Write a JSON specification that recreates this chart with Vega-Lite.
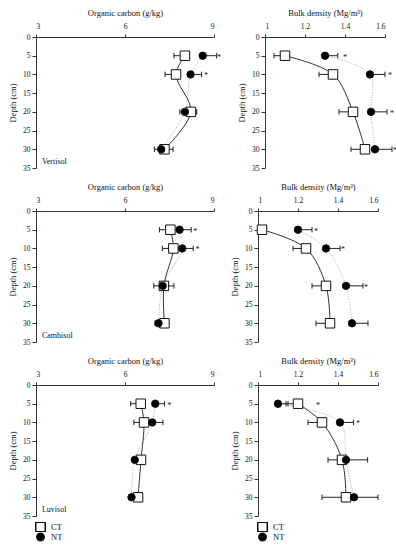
{
"$schema": "https://vega.github.io/schema/vega-lite/v6.json",
"padding": {"left": 8, "top": 8, "right": 2, "bottom": 2},
"background": "white",
"config": {
  "font": "Liberation Serif",
  "view": {"stroke": null},
  "axis": {"grid": false, "labelFontSize": 7.5, "titleFontSize": 8.5, "titleFontWeight": "normal", "labelColor": "#111", "titleColor": "#111", "domainColor": "#333", "tickColor": "#333", "tickSize": 3, "labelPadding": 2, "titlePadding": 5},
  "legend": {"labelFontSize": 8.5, "labelColor": "#111"},
  "text": {"font": "Liberation Serif", "color": "#111"}
},
"datasets": {"d": [
{"soil":"Vertisol","var":"OC","trt":"CT","depth":5,"value":8.02,"whisk":7.65,"star":null},
{"soil":"Vertisol","var":"OC","trt":"NT","depth":5,"value":8.62,"whisk":9.09,"star":9.17},
{"soil":"Vertisol","var":"OC","trt":"CT","depth":10,"value":7.72,"whisk":7.35,"star":null},
{"soil":"Vertisol","var":"OC","trt":"NT","depth":10,"value":8.21,"whisk":8.58,"star":8.73},
{"soil":"Vertisol","var":"OC","trt":"CT","depth":20,"value":8.22,"whisk":8.42,"star":null},
{"soil":"Vertisol","var":"OC","trt":"NT","depth":20,"value":8.02,"whisk":7.85,"star":null},
{"soil":"Vertisol","var":"OC","trt":"CT","depth":30,"value":7.33,"whisk":7.62,"star":null},
{"soil":"Vertisol","var":"OC","trt":"NT","depth":30,"value":7.22,"whisk":6.99,"star":null},
{"soil":"Vertisol","var":"BD","trt":"CT","depth":5,"value":1.10,"whisk":1.045,"star":null},
{"soil":"Vertisol","var":"BD","trt":"NT","depth":5,"value":1.30,"whisk":1.364,"star":1.40},
{"soil":"Vertisol","var":"BD","trt":"CT","depth":10,"value":1.34,"whisk":1.27,"star":null},
{"soil":"Vertisol","var":"BD","trt":"NT","depth":10,"value":1.525,"whisk":1.60,"star":1.625},
{"soil":"Vertisol","var":"BD","trt":"CT","depth":20,"value":1.44,"whisk":1.37,"star":null},
{"soil":"Vertisol","var":"BD","trt":"NT","depth":20,"value":1.53,"whisk":1.61,"star":1.635},
{"soil":"Vertisol","var":"BD","trt":"CT","depth":30,"value":1.50,"whisk":1.43,"star":null},
{"soil":"Vertisol","var":"BD","trt":"NT","depth":30,"value":1.55,"whisk":1.635,"star":1.65},
{"soil":"Cambisol","var":"OC","trt":"CT","depth":5,"value":7.53,"whisk":7.16,"star":null},
{"soil":"Cambisol","var":"OC","trt":"NT","depth":5,"value":7.84,"whisk":8.23,"star":8.37},
{"soil":"Cambisol","var":"OC","trt":"CT","depth":10,"value":7.63,"whisk":7.26,"star":null},
{"soil":"Cambisol","var":"OC","trt":"NT","depth":10,"value":7.93,"whisk":8.30,"star":8.44},
{"soil":"Cambisol","var":"OC","trt":"CT","depth":20,"value":7.31,"whisk":7.65,"star":null},
{"soil":"Cambisol","var":"OC","trt":"NT","depth":20,"value":7.27,"whisk":6.97,"star":null},
{"soil":"Cambisol","var":"OC","trt":"CT","depth":30,"value":7.33,"whisk":null,"star":null},
{"soil":"Cambisol","var":"OC","trt":"NT","depth":30,"value":7.13,"whisk":7.01,"star":null},
{"soil":"Cambisol","var":"BD","trt":"CT","depth":5,"value":1.02,"whisk":null,"star":null},
{"soil":"Cambisol","var":"BD","trt":"NT","depth":5,"value":1.20,"whisk":1.27,"star":1.29},
{"soil":"Cambisol","var":"BD","trt":"CT","depth":10,"value":1.24,"whisk":1.175,"star":null},
{"soil":"Cambisol","var":"BD","trt":"NT","depth":10,"value":1.34,"whisk":1.41,"star":1.425},
{"soil":"Cambisol","var":"BD","trt":"CT","depth":20,"value":1.34,"whisk":1.27,"star":null},
{"soil":"Cambisol","var":"BD","trt":"NT","depth":20,"value":1.44,"whisk":1.525,"star":1.54},
{"soil":"Cambisol","var":"BD","trt":"CT","depth":30,"value":1.36,"whisk":1.29,"star":null},
{"soil":"Cambisol","var":"BD","trt":"NT","depth":30,"value":1.47,"whisk":1.55,"star":null},
{"soil":"Luvisol","var":"OC","trt":"CT","depth":5,"value":6.53,"whisk":6.19,"star":null},
{"soil":"Luvisol","var":"OC","trt":"NT","depth":5,"value":7.02,"whisk":7.33,"star":7.5},
{"soil":"Luvisol","var":"OC","trt":"CT","depth":10,"value":6.64,"whisk":6.30,"star":null},
{"soil":"Luvisol","var":"OC","trt":"NT","depth":10,"value":6.92,"whisk":7.28,"star":null},
{"soil":"Luvisol","var":"OC","trt":"CT","depth":20,"value":6.54,"whisk":null,"star":null},
{"soil":"Luvisol","var":"OC","trt":"NT","depth":20,"value":6.33,"whisk":null,"star":null},
{"soil":"Luvisol","var":"OC","trt":"CT","depth":30,"value":6.44,"whisk":null,"star":null},
{"soil":"Luvisol","var":"OC","trt":"NT","depth":30,"value":6.22,"whisk":null,"star":null},
{"soil":"Luvisol","var":"BD","trt":"CT","depth":5,"value":1.20,"whisk":1.14,"star":null},
{"soil":"Luvisol","var":"BD","trt":"NT","depth":5,"value":1.10,"whisk":1.15,"star":1.30},
{"soil":"Luvisol","var":"BD","trt":"CT","depth":10,"value":1.32,"whisk":1.25,"star":null},
{"soil":"Luvisol","var":"BD","trt":"NT","depth":10,"value":1.41,"whisk":1.478,"star":1.50},
{"soil":"Luvisol","var":"BD","trt":"CT","depth":20,"value":1.42,"whisk":1.35,"star":null},
{"soil":"Luvisol","var":"BD","trt":"NT","depth":20,"value":1.44,"whisk":1.548,"star":null},
{"soil":"Luvisol","var":"BD","trt":"CT","depth":30,"value":1.44,"whisk":1.32,"star":null},
{"soil":"Luvisol","var":"BD","trt":"NT","depth":30,"value":1.48,"whisk":1.60,"star":null}
]},
"data": {"name": "d"},
"spacing": 10,
"resolve": {"scale": {"shape": "independent", "fill": "independent", "size": "independent"}, "legend": {"shape": "independent", "fill": "independent", "size": "independent"}},
"vconcat": [
{"hconcat": [
 {"width": 178, "height": 131,
  "transform": [{"filter": "datum.soil=='Vertisol' && datum.var=='OC'"}],
  "encoding": {
   "x": {"field": "value", "type": "quantitative", "title": "Organic carbon (g/kg)", "scale": {"domain": [3, 9], "nice": false, "zero": false}, "axis": {"orient": "top", "values": [3, 6, 9], "labelPadding": 4}},
   "y": {"field": "depth", "type": "quantitative", "title": "Depth (cm)", "scale": {"domain": [0, 35], "reverse": true, "nice": false}, "axis": {"values": [0,5,10,15,20,25,30,35], "tickSize": 4}}
  },
  "layer": [
   {"transform": [{"filter": "datum.trt=='NT'"}], "mark": {"type": "line", "interpolate": "catmull-rom", "stroke": "#aaa", "strokeDash": [1, 1.5], "strokeWidth": 1}, "encoding": {"order": {"field": "depth"}}},
   {"transform": [{"filter": "datum.trt=='CT'"}], "mark": {"type": "line", "interpolate": "catmull-rom", "stroke": "#333", "strokeWidth": 1}, "encoding": {"order": {"field": "depth"}}},
   {"transform": [{"filter": "isValid(datum.whisk)"}], "mark": {"type": "rule", "stroke": "#222", "strokeWidth": 1}, "encoding": {"x2": {"field": "whisk"}}},
   {"transform": [{"filter": "isValid(datum.whisk)"}], "mark": {"type": "point", "shape": "M0,-1L0,1", "stroke": "#222", "strokeWidth": 1, "size": 30, "opacity": 1}, "encoding": {"x": {"field": "whisk", "type": "quantitative", "title": "Organic carbon (g/kg)"}}},
   {"mark": {"type": "point", "filled": true, "stroke": "#111", "strokeWidth": 1, "opacity": 1}, "encoding": {"shape": {"field": "trt", "type": "nominal", "scale": {"domain": ["CT", "NT"], "range": ["square", "circle"]}, "legend": null}, "fill": {"field": "trt", "type": "nominal", "scale": {"domain": ["CT", "NT"], "range": ["white", "black"]}, "legend": null}, "size": {"field": "trt", "type": "nominal", "scale": {"domain": ["CT", "NT"], "range": [90, 55]}, "legend": null}}},
   {"transform": [{"filter": "isValid(datum.star)"}], "mark": {"type": "text", "text": "*", "fontSize": 8, "baseline": "middle", "dy": 2}, "encoding": {"x": {"field": "star", "type": "quantitative", "title": "Organic carbon (g/kg)"}}},
   {"transform": [{"filter": "datum.trt=='CT' && datum.depth==30"}], "mark": {"type": "text", "align": "left", "baseline": "middle", "fontSize": 8}, "encoding": {"text": {"field": "soil"}, "x": {"datum": 3.2}, "y": {"datum": 33.4}}}
  ]},
 {"width": 120, "height": 131,
  "transform": [{"filter": "datum.soil=='Vertisol' && datum.var=='BD'"}],
  "encoding": {
   "x": {"field": "value", "type": "quantitative", "title": "Bulk density (Mg/m³)", "scale": {"domain": [1, 1.6], "nice": false, "zero": false}, "axis": {"orient": "top", "values": [1, 1.2, 1.4, 1.6], "format": "~g", "labelPadding": 4}},
   "y": {"field": "depth", "type": "quantitative", "title": "Depth (cm)", "scale": {"domain": [0, 35], "reverse": true, "nice": false}, "axis": {"values": [0,5,10,15,20,25,30,35], "tickSize": 4}}
  },
  "layer": [
   {"transform": [{"filter": "datum.trt=='NT'"}], "mark": {"type": "line", "interpolate": "catmull-rom", "stroke": "#aaa", "strokeDash": [1, 1.5], "strokeWidth": 1}, "encoding": {"order": {"field": "depth"}}},
   {"transform": [{"filter": "datum.trt=='CT'"}], "mark": {"type": "line", "interpolate": "catmull-rom", "stroke": "#333", "strokeWidth": 1}, "encoding": {"order": {"field": "depth"}}},
   {"transform": [{"filter": "isValid(datum.whisk)"}], "mark": {"type": "rule", "stroke": "#222", "strokeWidth": 1}, "encoding": {"x2": {"field": "whisk"}}},
   {"transform": [{"filter": "isValid(datum.whisk)"}], "mark": {"type": "point", "shape": "M0,-1L0,1", "stroke": "#222", "strokeWidth": 1, "size": 30, "opacity": 1}, "encoding": {"x": {"field": "whisk", "type": "quantitative", "title": "Bulk density (Mg/m³)"}}},
   {"mark": {"type": "point", "filled": true, "stroke": "#111", "strokeWidth": 1, "opacity": 1}, "encoding": {"shape": {"field": "trt", "type": "nominal", "scale": {"domain": ["CT", "NT"], "range": ["square", "circle"]}, "legend": null}, "fill": {"field": "trt", "type": "nominal", "scale": {"domain": ["CT", "NT"], "range": ["white", "black"]}, "legend": null}, "size": {"field": "trt", "type": "nominal", "scale": {"domain": ["CT", "NT"], "range": [90, 55]}, "legend": null}}},
   {"transform": [{"filter": "isValid(datum.star)"}], "mark": {"type": "text", "text": "*", "fontSize": 8, "baseline": "middle", "dy": 2}, "encoding": {"x": {"field": "star", "type": "quantitative", "title": "Bulk density (Mg/m³)"}}}
  ]}
], "spacing": 15, "resolve": {"scale": {"shape": "independent", "fill": "independent", "size": "independent"}, "legend": {"shape": "independent", "fill": "independent", "size": "independent"}}},
{"hconcat": [
 {"width": 178, "height": 131,
  "transform": [{"filter": "datum.soil=='Cambisol' && datum.var=='OC'"}],
  "encoding": {
   "x": {"field": "value", "type": "quantitative", "title": "Organic carbon (g/kg)", "scale": {"domain": [3, 9], "nice": false, "zero": false}, "axis": {"orient": "top", "values": [3, 6, 9], "labelPadding": 4}},
   "y": {"field": "depth", "type": "quantitative", "title": "Depth (cm)", "scale": {"domain": [0, 35], "reverse": true, "nice": false}, "axis": {"values": [0,5,10,15,20,25,30,35], "tickSize": 4}}
  },
  "layer": [
   {"transform": [{"filter": "datum.trt=='NT'"}], "mark": {"type": "line", "interpolate": "catmull-rom", "stroke": "#aaa", "strokeDash": [1, 1.5], "strokeWidth": 1}, "encoding": {"order": {"field": "depth"}}},
   {"transform": [{"filter": "datum.trt=='CT'"}], "mark": {"type": "line", "interpolate": "catmull-rom", "stroke": "#333", "strokeWidth": 1}, "encoding": {"order": {"field": "depth"}}},
   {"transform": [{"filter": "isValid(datum.whisk)"}], "mark": {"type": "rule", "stroke": "#222", "strokeWidth": 1}, "encoding": {"x2": {"field": "whisk"}}},
   {"transform": [{"filter": "isValid(datum.whisk)"}], "mark": {"type": "point", "shape": "M0,-1L0,1", "stroke": "#222", "strokeWidth": 1, "size": 30, "opacity": 1}, "encoding": {"x": {"field": "whisk", "type": "quantitative", "title": "Organic carbon (g/kg)"}}},
   {"mark": {"type": "point", "filled": true, "stroke": "#111", "strokeWidth": 1, "opacity": 1}, "encoding": {"shape": {"field": "trt", "type": "nominal", "scale": {"domain": ["CT", "NT"], "range": ["square", "circle"]}, "legend": null}, "fill": {"field": "trt", "type": "nominal", "scale": {"domain": ["CT", "NT"], "range": ["white", "black"]}, "legend": null}, "size": {"field": "trt", "type": "nominal", "scale": {"domain": ["CT", "NT"], "range": [90, 55]}, "legend": null}}},
   {"transform": [{"filter": "isValid(datum.star)"}], "mark": {"type": "text", "text": "*", "fontSize": 8, "baseline": "middle", "dy": 2}, "encoding": {"x": {"field": "star", "type": "quantitative", "title": "Organic carbon (g/kg)"}}},
   {"transform": [{"filter": "datum.trt=='CT' && datum.depth==30"}], "mark": {"type": "text", "align": "left", "baseline": "middle", "fontSize": 8}, "encoding": {"text": {"field": "soil"}, "x": {"datum": 3.2}, "y": {"datum": 33.4}}}
  ]},
 {"width": 120, "height": 131,
  "transform": [{"filter": "datum.soil=='Cambisol' && datum.var=='BD'"}],
  "encoding": {
   "x": {"field": "value", "type": "quantitative", "title": "Bulk density (Mg/m³)", "scale": {"domain": [1, 1.6], "nice": false, "zero": false}, "axis": {"orient": "top", "values": [1, 1.2, 1.4, 1.6], "format": "~g", "labelPadding": 4}},
   "y": {"field": "depth", "type": "quantitative", "title": "Depth (cm)", "scale": {"domain": [0, 35], "reverse": true, "nice": false}, "axis": {"values": [0,5,10,15,20,25,30,35], "tickSize": 4}}
  },
  "layer": [
   {"transform": [{"filter": "datum.trt=='NT'"}], "mark": {"type": "line", "interpolate": "catmull-rom", "stroke": "#aaa", "strokeDash": [1, 1.5], "strokeWidth": 1}, "encoding": {"order": {"field": "depth"}}},
   {"transform": [{"filter": "datum.trt=='CT'"}], "mark": {"type": "line", "interpolate": "catmull-rom", "stroke": "#333", "strokeWidth": 1}, "encoding": {"order": {"field": "depth"}}},
   {"transform": [{"filter": "isValid(datum.whisk)"}], "mark": {"type": "rule", "stroke": "#222", "strokeWidth": 1}, "encoding": {"x2": {"field": "whisk"}}},
   {"transform": [{"filter": "isValid(datum.whisk)"}], "mark": {"type": "point", "shape": "M0,-1L0,1", "stroke": "#222", "strokeWidth": 1, "size": 30, "opacity": 1}, "encoding": {"x": {"field": "whisk", "type": "quantitative", "title": "Bulk density (Mg/m³)"}}},
   {"mark": {"type": "point", "filled": true, "stroke": "#111", "strokeWidth": 1, "opacity": 1}, "encoding": {"shape": {"field": "trt", "type": "nominal", "scale": {"domain": ["CT", "NT"], "range": ["square", "circle"]}, "legend": null}, "fill": {"field": "trt", "type": "nominal", "scale": {"domain": ["CT", "NT"], "range": ["white", "black"]}, "legend": null}, "size": {"field": "trt", "type": "nominal", "scale": {"domain": ["CT", "NT"], "range": [90, 55]}, "legend": null}}},
   {"transform": [{"filter": "isValid(datum.star)"}], "mark": {"type": "text", "text": "*", "fontSize": 8, "baseline": "middle", "dy": 2}, "encoding": {"x": {"field": "star", "type": "quantitative", "title": "Bulk density (Mg/m³)"}}}
  ]}
], "spacing": 15, "resolve": {"scale": {"shape": "independent", "fill": "independent", "size": "independent"}, "legend": {"shape": "independent", "fill": "independent", "size": "independent"}}},
{"hconcat": [
 {"width": 178, "height": 131,
  "transform": [{"filter": "datum.soil=='Luvisol' && datum.var=='OC'"}],
  "encoding": {
   "x": {"field": "value", "type": "quantitative", "title": "Organic carbon (g/kg)", "scale": {"domain": [3, 9], "nice": false, "zero": false}, "axis": {"orient": "top", "values": [3, 6, 9], "labelPadding": 4}},
   "y": {"field": "depth", "type": "quantitative", "title": "Depth (cm)", "scale": {"domain": [0, 35], "reverse": true, "nice": false}, "axis": {"values": [0,5,10,15,20,25,30,35], "tickSize": 4}}
  },
  "layer": [
   {"transform": [{"filter": "datum.trt=='NT'"}], "mark": {"type": "line", "interpolate": "catmull-rom", "stroke": "#aaa", "strokeDash": [1, 1.5], "strokeWidth": 1}, "encoding": {"order": {"field": "depth"}}},
   {"transform": [{"filter": "datum.trt=='CT'"}], "mark": {"type": "line", "interpolate": "catmull-rom", "stroke": "#333", "strokeWidth": 1}, "encoding": {"order": {"field": "depth"}}},
   {"transform": [{"filter": "isValid(datum.whisk)"}], "mark": {"type": "rule", "stroke": "#222", "strokeWidth": 1}, "encoding": {"x2": {"field": "whisk"}}},
   {"transform": [{"filter": "isValid(datum.whisk)"}], "mark": {"type": "point", "shape": "M0,-1L0,1", "stroke": "#222", "strokeWidth": 1, "size": 30, "opacity": 1}, "encoding": {"x": {"field": "whisk", "type": "quantitative", "title": "Organic carbon (g/kg)"}}},
   {"mark": {"type": "point", "filled": true, "stroke": "#111", "strokeWidth": 1, "opacity": 1}, "encoding": {"shape": {"field": "trt", "type": "nominal", "scale": {"domain": ["CT", "NT"], "range": ["square", "circle"]}, "legend": {"orient": "none", "legendX": -1, "legendY": 137, "title": null, "rowPadding": 0, "clipHeight": 10, "labelOffset": 5, "encode": {"symbols": {"update": {"stroke": {"value": "#111"}, "strokeWidth": {"value": 1}}}}}}, "fill": {"field": "trt", "type": "nominal", "scale": {"domain": ["CT", "NT"], "range": ["white", "black"]}, "legend": {"orient": "none", "legendX": -1, "legendY": 137, "title": null, "rowPadding": 0, "clipHeight": 10, "labelOffset": 5, "encode": {"symbols": {"update": {"stroke": {"value": "#111"}, "strokeWidth": {"value": 1}}}}}}, "size": {"field": "trt", "type": "nominal", "scale": {"domain": ["CT", "NT"], "range": [90, 55]}, "legend": {"orient": "none", "legendX": -1, "legendY": 137, "title": null, "rowPadding": 0, "clipHeight": 10, "labelOffset": 5, "encode": {"symbols": {"update": {"stroke": {"value": "#111"}, "strokeWidth": {"value": 1}}}}}}}},
   {"transform": [{"filter": "isValid(datum.star)"}], "mark": {"type": "text", "text": "*", "fontSize": 8, "baseline": "middle", "dy": 2}, "encoding": {"x": {"field": "star", "type": "quantitative", "title": "Organic carbon (g/kg)"}}},
   {"transform": [{"filter": "datum.trt=='CT' && datum.depth==30"}], "mark": {"type": "text", "align": "left", "baseline": "middle", "fontSize": 8}, "encoding": {"text": {"field": "soil"}, "x": {"datum": 3.2}, "y": {"datum": 33.4}}}
  ]},
 {"width": 120, "height": 131,
  "transform": [{"filter": "datum.soil=='Luvisol' && datum.var=='BD'"}],
  "encoding": {
   "x": {"field": "value", "type": "quantitative", "title": "Bulk density (Mg/m³)", "scale": {"domain": [1, 1.6], "nice": false, "zero": false}, "axis": {"orient": "top", "values": [1, 1.2, 1.4, 1.6], "format": "~g", "labelPadding": 4}},
   "y": {"field": "depth", "type": "quantitative", "title": "Depth (cm)", "scale": {"domain": [0, 35], "reverse": true, "nice": false}, "axis": {"values": [0,5,10,15,20,25,30,35], "tickSize": 4}}
  },
  "layer": [
   {"transform": [{"filter": "datum.trt=='NT'"}], "mark": {"type": "line", "interpolate": "catmull-rom", "stroke": "#aaa", "strokeDash": [1, 1.5], "strokeWidth": 1}, "encoding": {"order": {"field": "depth"}}},
   {"transform": [{"filter": "datum.trt=='CT'"}], "mark": {"type": "line", "interpolate": "catmull-rom", "stroke": "#333", "strokeWidth": 1}, "encoding": {"order": {"field": "depth"}}},
   {"transform": [{"filter": "isValid(datum.whisk)"}], "mark": {"type": "rule", "stroke": "#222", "strokeWidth": 1}, "encoding": {"x2": {"field": "whisk"}}},
   {"transform": [{"filter": "isValid(datum.whisk)"}], "mark": {"type": "point", "shape": "M0,-1L0,1", "stroke": "#222", "strokeWidth": 1, "size": 30, "opacity": 1}, "encoding": {"x": {"field": "whisk", "type": "quantitative", "title": "Bulk density (Mg/m³)"}}},
   {"mark": {"type": "point", "filled": true, "stroke": "#111", "strokeWidth": 1, "opacity": 1}, "encoding": {"shape": {"field": "trt", "type": "nominal", "scale": {"domain": ["CT", "NT"], "range": ["square", "circle"]}, "legend": {"orient": "none", "legendX": -1, "legendY": 137, "title": null, "rowPadding": 0, "clipHeight": 10, "labelOffset": 5, "encode": {"symbols": {"update": {"stroke": {"value": "#111"}, "strokeWidth": {"value": 1}}}}}}, "fill": {"field": "trt", "type": "nominal", "scale": {"domain": ["CT", "NT"], "range": ["white", "black"]}, "legend": {"orient": "none", "legendX": -1, "legendY": 137, "title": null, "rowPadding": 0, "clipHeight": 10, "labelOffset": 5, "encode": {"symbols": {"update": {"stroke": {"value": "#111"}, "strokeWidth": {"value": 1}}}}}}, "size": {"field": "trt", "type": "nominal", "scale": {"domain": ["CT", "NT"], "range": [90, 55]}, "legend": {"orient": "none", "legendX": -1, "legendY": 137, "title": null, "rowPadding": 0, "clipHeight": 10, "labelOffset": 5, "encode": {"symbols": {"update": {"stroke": {"value": "#111"}, "strokeWidth": {"value": 1}}}}}}}},
   {"transform": [{"filter": "isValid(datum.star)"}], "mark": {"type": "text", "text": "*", "fontSize": 8, "baseline": "middle", "dy": 2}, "encoding": {"x": {"field": "star", "type": "quantitative", "title": "Bulk density (Mg/m³)"}}}
  ]}
], "spacing": 15, "resolve": {"scale": {"shape": "independent", "fill": "independent", "size": "independent"}, "legend": {"shape": "independent", "fill": "independent", "size": "independent"}}}
]
}
